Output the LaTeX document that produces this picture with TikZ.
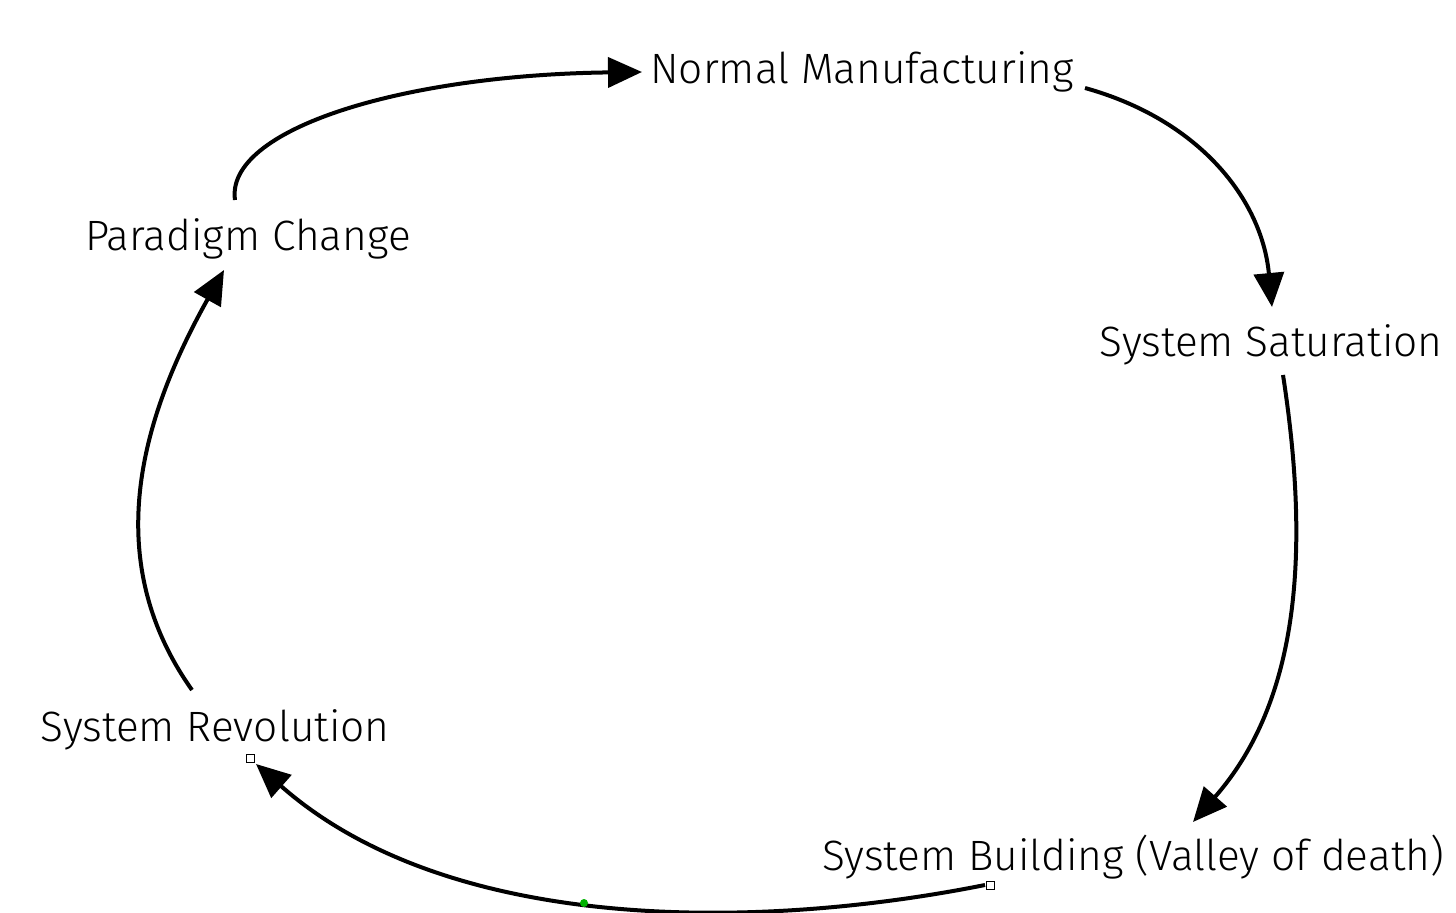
\documentclass[tikz,border=0pt]{standalone}
\usepackage{fontspec}
\setmainfont{Fira Sans Light}
\usetikzlibrary{arrows.meta}
\begin{document}
\begin{tikzpicture}[x=0.5pt,y=-0.5pt,
  lbl/.style={inner sep=0pt,font=\fontsize{21.2pt}{24pt}\selectfont},
  flow/.style={line width=2pt,-{Triangle[length=17pt,width=15pt]}}]
\useasboundingbox (0,0) rectangle (1456,913);
\node[lbl] (nm) at (862,72) {Normal Manufacturing};
\node[lbl] (ss) at (1271,345) {System Saturation};
\node[lbl] (sb) at (1133,857) {System Building (Valley of death)};
\node[lbl] (sr) at (215,730) {System Revolution};
\node[lbl] (pc) at (248,239) {Paradigm Change};
\coordinate (a1) at (235,200); \coordinate (b1) at (642,72);
\coordinate (a2) at (1085,88); \coordinate (b2) at (1272,307);
\coordinate (a3) at (1283,375); \coordinate (b3) at (1193,822);
\coordinate (a4) at (985,885); \coordinate (b4) at (256,764);
\coordinate (a5) at (192,690); \coordinate (b5) at (224,270);
\draw[flow] (a1) .. controls (225,130) and (400,75) .. (b1);
\draw[flow] (a2) .. controls (1200,120) and (1262,200) .. (b2);
\draw[flow] (a3) .. controls (1310,550) and (1300,700) .. (b3);
\draw[flow] (a4) .. controls (760,930) and (450,935) .. (b4);
\draw[flow] (a5) .. controls (100,560) and (140,420) .. (b5);
\node[draw,fill=white,minimum size=4pt,inner sep=0pt,line width=0.4pt] (q1) at (250,758) {};
\node[draw,fill=white,minimum size=4pt,inner sep=0pt,line width=0.4pt] (q2) at (990,885) {};
\node[circle,fill=green!70!black,minimum size=4pt,inner sep=0pt] (g) at (584,903) {};
\end{tikzpicture}
\end{document}
